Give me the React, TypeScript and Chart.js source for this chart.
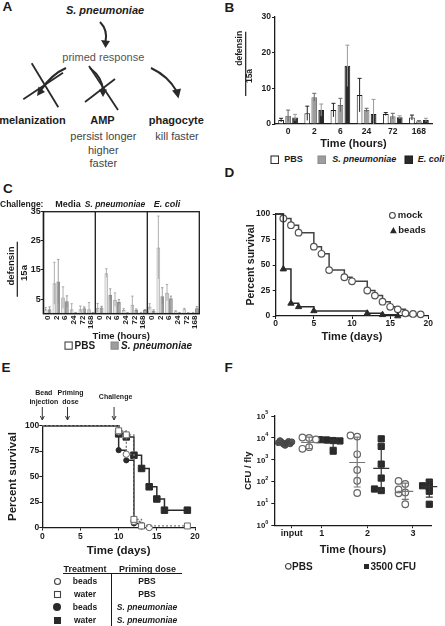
import React, { useEffect, useRef } from 'react';
import { Chart, registerables } from 'chart.js';

Chart.register(...registerables);

const FONT = '"Liberation Sans", Arial, Helvetica, sans-serif';
const INK = '#1b1b1b';
Chart.defaults.font.family = FONT;
Chart.defaults.color = INK;

// ---------------- Panel B data ----------------
const bTimes = ['0', '2', '6', '24', '72', '168'];
const bPBS = [1.1, 3.0, 3.9, 8.1, 2.8, 1.8];
const bPBSErr = [0.5, 2.0, 1.9, 4.7, 0.4, 0.7];
const bSpn = [2.3, 7.5, 5.3, 3.9, 2.2, 0.75];
const bSpnErr = [1.6, 1.1, 1.9, 0.5, 0.8, 0.2];
const bEco = [1.8, 3.9, 16.3, 2.8, 1.9, 1.1];
const bEcoErr = [0.9, 1.7, 5.8, 4.1, 0.4, 0.5];

// ---------------- Panel C data ----------------
const cTimes = ['0', '2', '6', '24', '72', '168'];
const cMediaPBS = [1.5, 10.4, 5.5, 1.5, 1.5, 1.5];
const cMediaPBSErr = [0.6, 7.2, 3.7, 1.9, 1.1, 2.3];
const cMediaSpn = [1.5, 11.0, 4.2, 0.3, 1.8, 0.3];
const cMediaSpnErr = [0.8, 7.6, 1.9, 0.1, 0.5, 0.1];
const cSpnPBS = [2.0, 13.9, 4.8, 1.25, 3.0, 0.3];
const cSpnPBSErr = [1.5, 1.5, 2.3, 0.45, 3.0, 0.1];
const cSpnSpn = [2.1, 6.5, 4.0, 0.3, 1.2, 1.2];
const cSpnSpnErr = [0.4, 2.0, 0.8, 0.1, 0.4, 0.2];
const cEcoPBS = [2.4, 22.7, 7.2, 0.8, 1.5, 0.3];
const cEcoPBSErr = [1.0, 10.8, 2.8, 0.2, 0.3, 0.1];
const cEcoSpn = [1.0, 6.0, 5.3, 0.3, 0.2, 1.8];
const cEcoSpnErr = [0.3, 2.9, 0.7, 0.1, 0.1, 0.6];
const cYTicks = [5, 15, 25, 35];

// ---------------- Panel D data ----------------
const dMockDays = [0, 1, 2, 3, 5, 6, 7, 9, 10, 12, 13, 14, 15, 16, 17, 18, 19];
const dMockSurv = [100, 95.6, 89, 81.7, 68, 61, 45, 38, 34, 25, 20, 14, 9, 6.5, 2.6, 2, 1.6];
const dBeadsDays = [0, 1, 2, 3, 5, 12, 14, 16];
const dBeadsSurv = [100, 46, 12.4, 9, 5, 2.6, 1.2, 0];

// ---------------- Panel E data ----------------
const eBeadsPBSDays = [0, 10, 11, 12, 13, 14];
const eBeadsPBSSurv = [100, 94, 72, 6, 2, 0];
const eWaterPBSDays = [0, 10, 11, 12, 13, 19];
const eWaterPBSSurv = [100, 95, 91, 8, 1.5, 1.5];
const eBeadsSpnDays = [0, 10, 11, 12, 13];
const eBeadsSpnSurv = [100, 76, 66, 4, 1];
const eWaterSpnDays = [0, 10, 11, 12, 13, 14, 15, 16, 19];
const eWaterSpnSurv = [100, 92, 89, 71, 58, 40, 28, 17, 17];
const eEventDays = [0, 3.3, 9.4];
const eEventLabels = [['Bead', 'injection'], ['Priming', 'dose'], ['Challenge']];

// ---------------- Panel F data ----------------
const fInput = [4600, 5200, 5800, 6300, 6900, 7500, 5400, 6100, 6600];
const fPBS1 = [10000, 10500, 8600, 3800, 3200];
const fCFU1 = [7600, 8100, 7300, 8300, 2500];
const fPBS2 = [11500, 12900, 1800, 350, 112, 31];
const fCFU2 = [9100, 4100, 640, 148, 40, 47];
const fPBS3 = [33, 30, 45, 80, 110, 9.5];
const fCFU3 = [58, 66, 97, 37, 9.5];
const fMean = [6000, 6200, 6000, 760, 410, 37, 60];
const fSDLow = [5000, 3300, 3700, 58, 40, 16, 20];
const fSDHigh = [7200, 10800, 7900, 11000, 4900, 88, 115];
const fXTickPos = [0.28, 1.52, 3.43, 5.32];
const fXTickLabels = ['input', '1', '2', '3'];
const fYTickExps = [0, 1, 2, 3, 4, 5];

// ---------------- helpers ----------------
const bold = (size: number) => ({ size, weight: 'bold' as const, family: FONT });

function errorBars(id: string, errs: number[][], colors: string[], cap: number, lw = 1) {
  return {
    id,
    afterDatasetsDraw(chart: any) {
      const { ctx } = chart;
      const y = chart.scales.y;
      ctx.save();
      ctx.lineWidth = lw;
      chart.data.datasets.forEach((ds: any, di: number) => {
        const meta = chart.getDatasetMeta(di);
        ctx.strokeStyle = colors[di];
        meta.data.forEach((el: any, i: number) => {
          const v = ds.data[i];
          const e = errs[di][i];
          const top = y.getPixelForValue(v + e);
          const bot = y.getPixelForValue(Math.max(0, v - e));
          const cx = el.x;
          ctx.beginPath();
          ctx.moveTo(cx, bot);
          ctx.lineTo(cx, top);
          ctx.moveTo(cx - cap, top);
          ctx.lineTo(cx + cap, top);
          ctx.stroke();
        });
      });
      ctx.restore();
    },
  };
}

function fractionTitle(id: string, num: string, den: string, size: number,
  nx: number, ny: number, dx: number, dy: number, lx: number, ly1: number, ly2: number) {
  return {
    id,
    afterDraw(chart: any) {
      const ctx = chart.ctx;
      ctx.save();
      ctx.fillStyle = INK;
      ctx.font = `bold ${size}px ${FONT}`;
      ctx.textAlign = 'center';
      ctx.textBaseline = 'middle';
      const put = (t: string, x: number, y: number) => {
        ctx.save();
        ctx.translate(x, y);
        ctx.rotate(-Math.PI / 2);
        ctx.fillText(t, 0, 0);
        ctx.restore();
      };
      put(num, nx, ny);
      put(den, dx, dy);
      ctx.strokeStyle = INK;
      ctx.lineWidth = 1.2;
      ctx.beginPath();
      ctx.moveTo(lx, ly1);
      ctx.lineTo(lx, ly2);
      ctx.stroke();
      ctx.restore();
    },
  };
}

function ChartCanvas({ x, y, w, h, config }: { x: number; y: number; w: number; h: number; config: () => any }) {
  const ref = useRef<HTMLCanvasElement | null>(null);
  useEffect(() => {
    if (!ref.current) return;
    const chart = new Chart(ref.current, config());
    return () => chart.destroy();
  }, []);
  return (
    <canvas ref={ref} width={w} height={h}
      style={{ position: 'absolute', left: x, top: y, width: w, height: h }} />
  );
}

const axisGrid = (tickLength: number) => ({
  display: true, drawOnChartArea: false, drawTicks: true, tickLength, color: INK, lineWidth: 1,
});
const axisBorder = { display: true, color: INK, width: 1.3 };
const noGrid = { display: false, drawOnChartArea: false, drawTicks: false };

// ---------------- Panel B ----------------
function configB() {
  return {
    type: 'bar',
    data: {
      labels: bTimes,
      datasets: [
        { label: 'PBS', data: bPBS, backgroundColor: '#ffffff', borderColor: INK, borderWidth: 1 },
        { label: 'S. pneumoniae', data: bSpn, backgroundColor: '#9d9d9d', borderColor: '#6a6a6a', borderWidth: 1 },
        { label: 'E. coli', data: bEco, backgroundColor: '#2a2a2a', borderColor: INK, borderWidth: 1 },
      ],
    },
    options: {
      animation: false, responsive: false, maintainAspectRatio: false,
      layout: { padding: { left: 0, right: 13, top: 17, bottom: 0 } },
      datasets: { bar: { categoryPercentage: 0.8, barPercentage: 0.82 } },
      plugins: { legend: { display: false }, tooltip: { enabled: false } },
      scales: {
        x: {
          grid: noGrid, border: axisBorder,
          ticks: { font: bold(8.5), color: INK, padding: 3 },
          title: { display: true, text: 'Time (hours)', font: bold(11), color: INK, padding: 0 },
          afterFit: (s: any) => { s.height = 27; },
        },
        y: {
          min: 0, max: 30,
          grid: axisGrid(3), border: axisBorder,
          ticks: { stepSize: 10, font: bold(8.5), color: INK, padding: 1 },
          afterFit: (s: any) => { s.width = 50; },
        },
      },
    },
    plugins: [
      errorBars('bErr', [bPBSErr, bSpnErr, bEcoErr], ['#222', '#666', '#9a9a9a'], 2, 1),
      fractionTitle('bTitle', 'defensin', '15a', 8.5, 15, 48.3, 24.7, 76, 20.7, 31.7, 96),
    ],
  };
}

// ---------------- Panel C ----------------
function configC() {
  const labels = [...cTimes, ...cTimes, ...cTimes];
  const pbs = [...cMediaPBS, ...cSpnPBS, ...cEcoPBS];
  const spn = [...cMediaSpn, ...cSpnSpn, ...cEcoSpn];
  const pbsErr = [...cMediaPBSErr, ...cSpnPBSErr, ...cEcoPBSErr];
  const spnErr = [...cMediaSpnErr, ...cSpnSpnErr, ...cEcoSpnErr];
  const frame = {
    id: 'cFrame',
    afterDraw(chart: any) {
      const { ctx, chartArea: a } = chart;
      const x = chart.scales.x;
      ctx.save();
      ctx.strokeStyle = INK;
      ctx.lineWidth = 1.3;
      ctx.strokeRect(a.left, a.top, a.right - a.left, a.bottom - a.top);
      [6, 12].forEach((i) => {
        const px = (x.getPixelForValue(i - 1) + x.getPixelForValue(i)) / 2;
        ctx.beginPath();
        ctx.moveTo(px, a.top);
        ctx.lineTo(px, a.bottom);
        ctx.stroke();
      });
      ctx.restore();
    },
  };
  return {
    type: 'bar',
    data: {
      labels,
      datasets: [
        { label: 'PBS', data: pbs, backgroundColor: '#e6e6e6', borderColor: '#a5a5a5', borderWidth: 1 },
        { label: 'S. pneumoniae', data: spn, backgroundColor: '#9a9a9a', borderColor: '#858585', borderWidth: 1 },
      ],
    },
    options: {
      animation: false, responsive: false, maintainAspectRatio: false,
      layout: { padding: { left: 0, right: 15.7, top: 11.7, bottom: 0 } },
      datasets: { bar: { categoryPercentage: 0.9, barPercentage: 0.95 } },
      plugins: { legend: { display: false }, tooltip: { enabled: false } },
      scales: {
        x: {
          grid: noGrid, border: axisBorder,
          ticks: { font: bold(8), color: INK, padding: 2, autoSkip: false, minRotation: 90, maxRotation: 90 },
          title: { display: true, text: 'Time (hours)', font: bold(9.5), color: INK, padding: 0 },
          afterFit: (s: any) => { s.height = 28.4; },
        },
        y: {
          min: 0, max: 35,
          afterBuildTicks: (s: any) => { s.ticks = cYTicks.map((v) => ({ value: v })); },
          grid: axisGrid(2.5), border: axisBorder,
          ticks: { font: bold(9), color: INK, padding: 0 },
          afterFit: (s: any) => { s.width = 43.3; },
        },
      },
    },
    plugins: [
      errorBars('cErr', [pbsErr, spnErr], ['#9a9a9a', '#8a8a8a'], 1.2, 0.8),
      frame,
      fractionTitle('cTitle', 'defensin', '15a', 9.5, 11.7, 66, 24, 73, 17.3, 41.7, 96.7),
    ],
  };
}

// ---------------- survival helpers ----------------
function kmSet(days: number[], surv: number[], o: any) {
  return {
    data: days.map((d, i) => ({ x: d, y: surv[i] })),
    stepped: 'before', fill: false, clip: false, tension: 0,
    pointRadius: surv.map((_, i) => (i === 0 ? 0 : o.r)),
    pointHoverRadius: 0,
    ...o.style,
  };
}

// ---------------- Panel D ----------------
function configD() {
  return {
    type: 'line',
    data: {
      datasets: [
        kmSet(dBeadsDays, dBeadsSurv, {
          r: 3.6,
          style: { borderColor: '#2a2a2a', borderWidth: 1.5, pointStyle: 'triangle', pointBackgroundColor: '#2a2a2a', pointBorderColor: '#2a2a2a', pointBorderWidth: 1 },
        }),
        kmSet(dMockDays, dMockSurv, {
          r: 3.3,
          style: { borderColor: '#444', borderWidth: 1.5, pointStyle: 'circle', pointBackgroundColor: '#fff', pointBorderColor: '#555', pointBorderWidth: 1.2 },
        }),
      ],
    },
    options: {
      animation: false, responsive: false, maintainAspectRatio: false,
      layout: { padding: { left: 20, right: 16.7, top: 14, bottom: 0 } },
      plugins: { legend: { display: false }, tooltip: { enabled: false } },
      scales: {
        x: {
          type: 'linear', min: 0, max: 20,
          grid: axisGrid(3), border: axisBorder,
          ticks: { stepSize: 5, font: bold(8.5), color: INK, padding: 0 },
          title: { display: true, text: 'Time (days)', font: bold(11), color: INK, padding: 0 },
          afterFit: (s: any) => { s.height = 28; },
        },
        y: {
          min: 0, max: 100,
          grid: axisGrid(3), border: axisBorder,
          ticks: { stepSize: 25, font: bold(8.5), color: INK, padding: 2.5 },
          title: { display: true, text: 'Percent survival', font: bold(10.5), color: INK, padding: 0 },
          afterFit: (s: any) => { s.width = 30.7; },
        },
      },
    },
  };
}

// ---------------- Panel E ----------------
function configE() {
  const events = {
    id: 'eEvents',
    afterDraw(chart: any) {
      const { ctx } = chart;
      const x = chart.scales.x;
      ctx.save();
      ctx.fillStyle = INK;
      ctx.strokeStyle = '#333';
      ctx.font = `bold 7px ${FONT}`;
      ctx.textAlign = 'center';
      ctx.textBaseline = 'middle';
      eEventDays.forEach((d, i) => {
        const px = x.getPixelForValue(d);
        const lines = eEventLabels[i];
        const tx = px + (i === 1 ? 3 : 1.5);
        if (lines.length === 2) {
          ctx.fillText(lines[0], tx, 12.7);
          ctx.fillText(lines[1], tx, 21.7);
        } else {
          ctx.fillText(lines[0], tx, 17.3);
        }
        ctx.lineWidth = 1;
        ctx.beginPath();
        ctx.moveTo(px, 27);
        ctx.lineTo(px, 39.5);
        ctx.stroke();
        ctx.beginPath();
        ctx.moveTo(px - 2, 36);
        ctx.lineTo(px, 40);
        ctx.lineTo(px + 2, 36);
        ctx.stroke();
      });
      ctx.restore();
    },
  };
  return {
    type: 'line',
    data: {
      datasets: [
        kmSet(eWaterPBSDays, eWaterPBSSurv, {
          r: 4.2,
          style: { borderColor: '#777', borderWidth: 1.2, borderDash: [2, 2], pointStyle: 'rect', pointBackgroundColor: '#fff', pointBorderColor: '#666', pointBorderWidth: 1 },
        }),
        kmSet(eBeadsPBSDays, eBeadsPBSSurv, {
          r: 3.2,
          style: { borderColor: '#666', borderWidth: 1.2, borderDash: [2, 2], pointStyle: 'circle', pointBackgroundColor: '#fff', pointBorderColor: '#666', pointBorderWidth: 1 },
        }),
        kmSet(eBeadsSpnDays, eBeadsSpnSurv, {
          r: 2.6,
          style: { borderColor: '#2a2a2a', borderWidth: 1.5, pointStyle: 'circle', pointBackgroundColor: '#2a2a2a', pointBorderColor: '#2a2a2a', pointBorderWidth: 1 },
        }),
        kmSet(eWaterSpnDays, eWaterSpnSurv, {
          r: 4.6,
          style: { borderColor: '#2a2a2a', borderWidth: 1.5, pointStyle: 'rect', pointBackgroundColor: '#2a2a2a', pointBorderColor: '#2a2a2a', pointBorderWidth: 1 },
        }),
      ],
    },
    options: {
      animation: false, responsive: false, maintainAspectRatio: false,
      layout: { padding: { left: 6, right: 20, top: 45.7, bottom: 0 } },
      plugins: { legend: { display: false }, tooltip: { enabled: false } },
      scales: {
        x: {
          type: 'linear', min: 0, max: 20,
          grid: axisGrid(3), border: axisBorder,
          ticks: { stepSize: 5, font: bold(8.5), color: INK, padding: 1.4 },
          title: { display: true, text: 'Time (days)', font: bold(11.5), color: INK, padding: 0 },
          afterFit: (s: any) => { s.height = 30.5; },
        },
        y: {
          min: 0, max: 100,
          grid: axisGrid(3), border: axisBorder,
          ticks: { stepSize: 25, font: bold(8.5), color: INK, padding: 0 },
          title: { display: true, text: 'Percent survival', font: bold(11.5), color: INK, padding: 0 },
          afterFit: (s: any) => { s.width = 36.3; },
        },
      },
    },
    plugins: [events],
  };
}

// ---------------- Panel F ----------------
function jitter(vals: number[], center: number, step: number, thr: number) {
  return vals.map((v, i) => {
    const lv = Math.log10(v);
    let k = 0;
    for (let j = 0; j < i; j++) if (Math.abs(Math.log10(vals[j]) - lv) < thr) k++;
    const off = k === 0 ? 0 : (k % 2 ? -1 : 1) * Math.ceil(k / 2) * step;
    return { x: center + off, y: v };
  });
}

function configF() {
  const meanSD = {
    id: 'fMean',
    afterDatasetsDraw(chart: any) {
      const { ctx } = chart;
      const { x, y } = chart.scales;
      ctx.save();
      ctx.lineWidth = 1.2;
      fMean.forEach((m, i) => {
        const cx = x.getPixelForValue(i);
        ctx.strokeStyle = i === 0 ? '#444' : i % 2 ? '#777' : '#333';
        const ym = y.getPixelForValue(m);
        const yl = y.getPixelForValue(fSDLow[i]);
        const yh = y.getPixelForValue(fSDHigh[i]);
        ctx.beginPath();
        ctx.moveTo(cx - 8, ym); ctx.lineTo(cx + 8, ym);
        ctx.moveTo(cx, yl); ctx.lineTo(cx, yh);
        ctx.moveTo(cx - 3.5, yl); ctx.lineTo(cx + 3.5, yl);
        ctx.moveTo(cx - 3.5, yh); ctx.lineTo(cx + 3.5, yh);
        ctx.stroke();
      });
      ctx.restore();
    },
  };
  const yLabels = {
    id: 'fYLabels',
    afterDraw(chart: any) {
      const { ctx, chartArea } = chart;
      const y = chart.scales.y;
      ctx.save();
      ctx.fillStyle = INK;
      ctx.textAlign = 'right';
      ctx.textBaseline = 'middle';
      fYTickExps.forEach((e) => {
        const py = y.getPixelForValue(Math.pow(10, e));
        const xr = chartArea.left - 6;
        ctx.font = `bold 5.5px ${FONT}`;
        const sup = String(e);
        ctx.fillText(sup, xr, py - 3.5);
        const w = ctx.measureText(sup).width;
        ctx.font = `bold 7.8px ${FONT}`;
        ctx.fillText('10', xr - w, py + 0.5);
      });
      ctx.restore();
    },
  };
  const pbsStyle = { pointStyle: 'circle', pointRadius: 3.3, backgroundColor: '#fff', borderColor: '#666', borderWidth: 1.2, clip: false };
  const cfuStyle = { pointStyle: 'rect', pointRadius: 4.4, backgroundColor: '#2a2a2a', borderColor: '#2a2a2a', borderWidth: 1, clip: false };
  return {
    type: 'scatter',
    data: {
      datasets: [
        { data: jitter(fInput, 0, 0.07, 0.25), pointStyle: 'circle', pointRadius: 3, backgroundColor: '#555', borderColor: '#444', borderWidth: 1, clip: false },
        { data: [...jitter(fPBS1, 1, 0.28, 0.15), ...jitter(fPBS2, 3, 0.28, 0.15), ...jitter(fPBS3, 5, 0.28, 0.15)], ...pbsStyle },
        { data: [...jitter(fCFU1, 2, 0.28, 0.15), ...jitter(fCFU2, 4, 0.28, 0.15), ...jitter(fCFU3, 6, 0.28, 0.15)], ...cfuStyle },
      ],
    },
    options: {
      animation: false, responsive: false, maintainAspectRatio: false,
      layout: { padding: { left: 17.3, right: 13.3, top: 16, bottom: 0 } },
      plugins: { legend: { display: false }, tooltip: { enabled: false } },
      scales: {
        x: {
          type: 'linear', min: -0.45, max: 6.1,
          afterBuildTicks: (s: any) => { s.ticks = fXTickPos.map((v) => ({ value: v })); },
          grid: axisGrid(2.5), border: axisBorder,
          ticks: { font: bold(9), color: INK, padding: 0, autoSkip: false, maxRotation: 0, callback: (_v: any, i: number) => fXTickLabels[i] },
          title: { display: true, text: 'Time (hours)', font: bold(11), color: INK, padding: 0 },
          afterFit: (s: any) => { s.height = 31.3; },
        },
        y: {
          type: 'logarithmic', min: 1, max: 100000,
          afterBuildTicks: (s: any) => { s.ticks = fYTickExps.map((e) => ({ value: Math.pow(10, e) })); },
          grid: axisGrid(3), border: axisBorder,
          ticks: { callback: () => '', padding: 0 },
          title: { display: true, text: 'CFU / fly', font: bold(9.5), color: INK, padding: 0 },
          afterFit: (s: any) => { s.width = 32; },
        },
      },
    },
    plugins: [meanSD, yLabels],
  };
}

// ---------------- HTML helpers ----------------
function T({ x, y, s, b = true, i = false, c = INK, a = 'middle', children }: any) {
  const tx = a === 'middle' ? '-50%' : a === 'end' ? '-100%' : '0';
  return (
    <div style={{
      position: 'absolute', left: x, top: y, transform: `translate(${tx}, -50%)`,
      font: `${i ? 'italic ' : ''}${b ? 'bold ' : ''}${s}px ${FONT}`, color: c,
      whiteSpace: 'nowrap', lineHeight: 1,
    }}>{children}</div>
  );
}

function Sym({ x, y, kind, r }: { x: number; y: number; kind: string; r: number }) {
  const s = r * 2 + 2;
  const c = r + 1;
  let el: any = null;
  if (kind === 'boxWhite') el = <rect x={1} y={1} width={r * 2} height={r * 2} fill="#fff" stroke={INK} strokeWidth={1} />;
  else if (kind === 'boxGray') el = <rect x={1} y={1} width={r * 2} height={r * 2} fill="#9d9d9d" stroke="#888" strokeWidth={1} />;
  else if (kind === 'boxDark') el = <rect x={1} y={1} width={r * 2} height={r * 2} fill="#2a2a2a" stroke={INK} strokeWidth={1} />;
  else if (kind === 'boxLight') el = <rect x={1} y={1} width={r * 2} height={r * 2} fill="#fff" stroke="#333" strokeWidth={1} />;
  else if (kind === 'openCircle') el = <circle cx={c} cy={c} r={r - 0.5} fill="#fff" stroke="#444" strokeWidth={1.1} />;
  else if (kind === 'filledCircle') el = <circle cx={c} cy={c} r={r} fill="#2a2a2a" />;
  else if (kind === 'openSquare') el = <rect x={1.5} y={1.5} width={r * 2 - 1} height={r * 2 - 1} fill="#fff" stroke="#444" strokeWidth={1.1} />;
  else if (kind === 'filledSquare') el = <rect x={1} y={1} width={r * 2} height={r * 2} fill="#2a2a2a" />;
  else if (kind === 'triangle') el = <polygon points={`${c},1 ${s - 1},${s - 1.5} 1,${s - 1.5}`} fill="#2a2a2a" />;
  return (
    <svg width={s} height={s} style={{ position: 'absolute', left: x - c, top: y - c }}>{el}</svg>
  );
}

function PanelA() {
  const st = '#2a2a2a';
  const txt = { fontFamily: FONT, dominantBaseline: 'central' as const, textAnchor: 'middle' as const };
  return (
    <svg width={225} height={175} style={{ position: 'absolute', left: 0, top: 0 }}>
      <text {...txt} x={105} y={10} fontSize={11} fontWeight="bold" fontStyle="italic" fill={INK}>S. pneumoniae</text>
      <path d="M 100 22 Q 108 30 105.5 42" stroke={st} strokeWidth={2} fill="none" />
      <polygon points="101,40 110,41 105.5,48" fill={st} />
      <text {...txt} x={103.3} y={57.3} fontSize={11} fill="#555">primed response</text>
      <path d="M 66 68 Q 52 74 41 90" stroke={st} strokeWidth={2.2} fill="none" />
      <polygon points="37,96 45,92 38.5,86.5" fill={st} />
      <line x1={31.7} y1={63.3} x2={58.3} y2={107.3} stroke={st} strokeWidth={1.8} />
      <line x1={23.3} y1={99.3} x2={63} y2={72.7} stroke={st} strokeWidth={1.8} />
      <path d="M 90 68 Q 103 78 103 91" stroke={st} strokeWidth={2} fill="none" />
      <polygon points="99,89.5 107,89.5 103,97" fill={st} />
      <line x1={89} y1={66} x2={118} y2={110} stroke={st} strokeWidth={1.8} />
      <line x1={85} y1={102} x2={115} y2={79} stroke={st} strokeWidth={1.8} />
      <path d="M 151 68 Q 168 76 176.5 91" stroke={st} strokeWidth={2} fill="none" />
      <polygon points="172,90.5 181,88.5 178.5,98.5" fill={st} />
      <text {...txt} x={32.5} y={119.5} fontSize={11} fontWeight="bold" fill={INK}>melanization</text>
      <text {...txt} x={102.5} y={119.5} fontSize={11} fontWeight="bold" fill={INK}>AMP</text>
      <text {...txt} x={176.3} y={119.5} fontSize={11} fontWeight="bold" fill={INK}>phagocyte</text>
      <text {...txt} x={103.3} y={136} fontSize={11} fill="#444">persist longer</text>
      <text {...txt} x={103.3} y={149.5} fontSize={11} fill="#444">higher</text>
      <text {...txt} x={103.3} y={163} fontSize={11} fill="#444">faster</text>
      <text {...txt} x={177} y={136} fontSize={11} fill="#444">kill faster</text>
    </svg>
  );
}

const eTableMarks = ['openCircle', 'openSquare', 'filledCircle', 'filledSquare'];
const eTableTreatment = ['beads', 'water', 'beads', 'water'];
const eTablePriming = ['PBS', 'PBS', 'S. pneumoniae', 'S. pneumoniae'];

export default function App() {
  return (
    <div style={{ position: 'absolute', left: 0, top: 0, width: 445, height: 626, background: '#fff', overflow: 'hidden' }}>
      <PanelA />

      {/* panel letters */}
      <T x={2.5} y={7.2} s={13.5} a="start">A</T>
      <T x={224.5} y={7.8} s={13.5} a="start">B</T>
      <T x={3} y={189} s={13.5} a="start">C</T>
      <T x={224.5} y={173.3} s={13.5} a="start">D</T>
      <T x={1.5} y={368.3} s={13.5} a="start">E</T>
      <T x={224.5} y={368} s={13.5} a="start">F</T>

      {/* Panel B */}
      <ChartCanvas x={225} y={0} w={220} h={151} config={configB} />
      <Sym x={274.5} y={159.3} kind="boxWhite" r={3.8} />
      <T x={284.3} y={159.3} s={9} a="start">PBS</T>
      <Sym x={321.3} y={159.3} kind="boxGray" r={3.8} />
      <T x={332.3} y={159.3} s={9} i a="start">S. pneumoniae</T>
      <Sym x={408.3} y={159.3} kind="boxDark" r={3.8} />
      <T x={417.7} y={159.3} s={9} i a="start">E. coli</T>

      {/* Panel C */}
      <ChartCanvas x={0} y={200} w={215} h={142} config={configC} />
      <T x={0} y={204} s={8.5} a="start">Challenge:</T>
      <T x={68} y={204} s={9}>Media</T>
      <T x={115} y={204} s={8.5} i>S. pneumoniae</T>
      <T x={167} y={204} s={9} i>E. coli</T>
      <Sym x={68.3} y={346} kind="boxLight" r={3.6} />
      <T x={74.5} y={346} s={10} a="start">PBS</T>
      <Sym x={114.7} y={346} kind="boxGray" r={3.6} />
      <T x={121} y={346} s={10} i a="start">S. pneumoniae</T>

      {/* Panel D */}
      <ChartCanvas x={225} y={200} w={220} h={144} config={configD} />
      <Sym x={392} y={215.3} kind="openCircle" r={3.4} />
      <T x={397.7} y={215.3} s={9.5} a="start">mock</T>
      <Sym x={393.3} y={230} kind="triangle" r={3.4} />
      <T x={398.3} y={230.3} s={9.5} a="start">beads</T>

      {/* Panel E */}
      <ChartCanvas x={0} y={380} w={215} h={178} config={configE} />
      <T x={85} y={569} s={9}>Treatment</T>
      <T x={147.5} y={569} s={9}>Priming dose</T>
      <div style={{ position: 'absolute', left: 63, top: 573, width: 119, height: 1.2, background: INK }} />
      <div style={{ position: 'absolute', left: 110.5, top: 573, width: 1.2, height: 53, background: INK }} />
      {eTableMarks.map((m, i) => (
        <React.Fragment key={m}>
          <Sym x={57} y={581 + i * 13} kind={m} r={m === 'filledCircle' ? 4 : 3.5} />
          <T x={85} y={581 + i * 13} s={8.5}>{eTableTreatment[i]}</T>
          <T x={147} y={581 + i * 13} s={8.5} i={eTablePriming[i] !== 'PBS'}>{eTablePriming[i]}</T>
        </React.Fragment>
      ))}

      {/* Panel F */}
      <ChartCanvas x={225} y={400} w={220} h={157} config={configF} />
      <Sym x={288} y={566.7} kind="openCircle" r={3.3} />
      <T x={292} y={566.7} s={10} a="start">PBS</T>
      <Sym x={366.7} y={566.7} kind="filledSquare" r={2.5} />
      <T x={370.5} y={566.7} s={10} a="start">3500 CFU</T>
    </div>
  );
}
